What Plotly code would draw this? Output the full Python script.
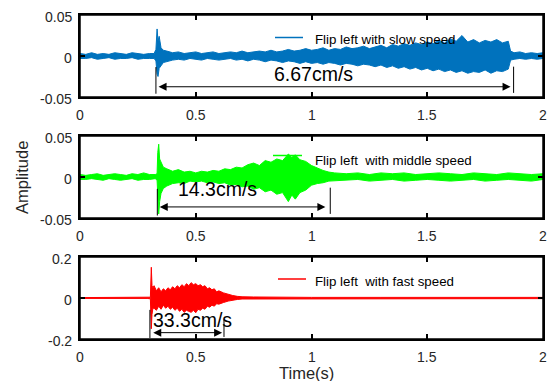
import plotly.graph_objects as go

# ---------------- data (envelopes) ----------------
t_slow = [0.00, 0.025, 0.05, 0.075, 0.10, 0.125, 0.15, 0.175, 0.20, 0.225, 0.25, 0.275, 0.30,
          0.32, 0.328, 0.333, 0.337, 0.342, 0.35, 0.36,
          0.375, 0.40, 0.425, 0.45, 0.475, 0.50, 0.525, 0.55, 0.575, 0.60, 0.625, 0.65, 0.675, 0.70,
          0.725, 0.75, 0.775, 0.80, 0.825, 0.85, 0.875, 0.90, 0.925, 0.95, 0.975, 1.00, 1.025, 1.05,
          1.075, 1.10, 1.125, 1.15, 1.175, 1.20, 1.225, 1.25, 1.275, 1.30, 1.325, 1.35, 1.375, 1.40,
          1.425, 1.45, 1.475, 1.50, 1.525, 1.55, 1.575, 1.60, 1.625, 1.65, 1.675, 1.70, 1.725, 1.75,
          1.775, 1.80, 1.825, 1.85, 1.86, 1.875, 1.90, 1.925, 1.95, 1.975, 2.00]
up_slow = [0.003, 0.002, 0.004, 0.002, 0.003, 0.002, 0.004, 0.003, 0.002, 0.004, 0.003, 0.002, 0.003,
           0.003, 0.008, 0.033, 0.018, 0.024, 0.010, 0.007,
           0.006, 0.004, 0.005, 0.003, 0.004, 0.005, 0.003, 0.004, 0.005, 0.003, 0.004, 0.005, 0.004, 0.006,
           0.004, 0.005, 0.006, 0.005, 0.007, 0.005, 0.006, 0.008, 0.006, 0.007, 0.009, 0.007, 0.008, 0.010,
           0.007, 0.009, 0.008, 0.011, 0.009, 0.010, 0.012, 0.009, 0.011, 0.013, 0.010, 0.014, 0.012, 0.015,
           0.013, 0.016, 0.014, 0.017, 0.015, 0.019, 0.016, 0.021, 0.018, 0.025, 0.017, 0.020, 0.016, 0.019,
           0.017, 0.020, 0.016, 0.018, 0.006, 0.004, 0.005, 0.003, 0.004, 0.003, 0.004]
lo_slow = [-0.003, -0.003, -0.002, -0.004, -0.003, -0.002, -0.004, -0.003, -0.003, -0.002, -0.004, -0.003, -0.003,
           -0.003, -0.006, -0.022, -0.025, -0.015, -0.012, -0.008,
           -0.007, -0.005, -0.004, -0.005, -0.003, -0.004, -0.005, -0.003, -0.004, -0.005, -0.004, -0.003, -0.005, -0.004,
           -0.006, -0.004, -0.005, -0.007, -0.005, -0.006, -0.008, -0.006, -0.007, -0.009, -0.007, -0.009, -0.008, -0.010,
           -0.008, -0.009, -0.011, -0.009, -0.010, -0.012, -0.010, -0.011, -0.013, -0.011, -0.014, -0.012, -0.015, -0.013,
           -0.016, -0.014, -0.017, -0.015, -0.018, -0.016, -0.019, -0.017, -0.020, -0.018, -0.021, -0.019, -0.020, -0.017,
           -0.021, -0.018, -0.019, -0.016, -0.005, -0.004, -0.003, -0.004, -0.003, -0.004, -0.003]

t_mid = [0.00, 0.025, 0.05, 0.075, 0.10, 0.125, 0.15, 0.175, 0.20, 0.225, 0.25, 0.275, 0.30, 0.325,
         0.333, 0.336, 0.340, 0.344, 0.350, 0.36, 0.375, 0.40, 0.425, 0.45, 0.475, 0.50, 0.525, 0.55,
         0.575, 0.60, 0.625, 0.65, 0.675, 0.70, 0.725, 0.75, 0.775, 0.80, 0.825, 0.85, 0.875, 0.90,
         0.915, 0.93, 0.95, 0.975, 1.00, 1.025, 1.05, 1.075, 1.10, 1.15, 1.20, 1.25, 1.30, 1.35, 1.40,
         1.45, 1.50, 1.55, 1.60, 1.65, 1.70, 1.75, 1.80, 1.85, 1.90, 1.95, 2.00]
up_mid = [0.003, 0.002, 0.003, 0.004, 0.002, 0.003, 0.004, 0.003, 0.002, 0.004, 0.003, 0.005, 0.003, 0.003,
          0.004, 0.030, 0.040, 0.022, 0.018, 0.012, 0.010, 0.007, 0.009, 0.006, 0.007, 0.005, 0.007, 0.006,
          0.008, 0.007, 0.010, 0.009, 0.012, 0.011, 0.015, 0.017, 0.014, 0.020, 0.018, 0.022, 0.020, 0.028,
          0.024, 0.027, 0.021, 0.019, 0.014, 0.011, 0.008, 0.006, 0.005, 0.004, 0.005, 0.003, 0.005, 0.004,
          0.005, 0.003, 0.004, 0.005, 0.004, 0.003, 0.005, 0.004, 0.003, 0.005, 0.004, 0.003, 0.004]
lo_mid = [-0.003, -0.003, -0.002, -0.003, -0.004, -0.002, -0.003, -0.004, -0.003, -0.002, -0.004, -0.003, -0.003, -0.002,
          -0.004, -0.020, -0.045, -0.030, -0.020, -0.014, -0.011, -0.008, -0.007, -0.008, -0.005, -0.006, -0.005, -0.007,
          -0.006, -0.008, -0.007, -0.010, -0.009, -0.012, -0.011, -0.015, -0.013, -0.018, -0.016, -0.021, -0.019, -0.030,
          -0.022, -0.027, -0.019, -0.016, -0.010, -0.008, -0.007, -0.005, -0.005, -0.004, -0.003, -0.005, -0.004, -0.003,
          -0.005, -0.004, -0.003, -0.004, -0.005, -0.004, -0.003, -0.005, -0.004, -0.003, -0.004, -0.005, -0.003]

t_fast = [0.00, 0.10, 0.20, 0.29, 0.304, 0.308, 0.311, 0.315, 0.32, 0.33, 0.34, 0.35, 0.36, 0.37, 0.38,
          0.39, 0.40, 0.41, 0.42, 0.43, 0.44, 0.45, 0.46, 0.47, 0.48, 0.49, 0.50, 0.51, 0.52, 0.53, 0.54,
          0.55, 0.56, 0.57, 0.58, 0.59, 0.60, 0.62, 0.64, 0.66, 0.68, 0.70, 0.75, 0.80, 0.90, 1.00, 1.30,
          1.60, 2.00]
up_fast = [0.002, 0.002, 0.002, 0.002, 0.004, 0.150, 0.060, 0.050, 0.060, 0.035, 0.050, 0.030, 0.045, 0.035, 0.050,
           0.040, 0.055, 0.045, 0.060, 0.050, 0.065, 0.055, 0.070, 0.060, 0.075, 0.065, 0.070, 0.060, 0.065, 0.055, 0.060,
           0.045, 0.050, 0.040, 0.045, 0.030, 0.035, 0.025, 0.018, 0.012, 0.008, 0.006, 0.005, 0.004, 0.003, 0.003, 0.003,
           0.003, 0.003]
lo_fast = [-0.002, -0.002, -0.002, -0.002, -0.004, -0.150, -0.080, -0.050, -0.050, -0.060, -0.040, -0.055, -0.035, -0.050, -0.040,
           -0.055, -0.045, -0.060, -0.050, -0.065, -0.055, -0.070, -0.060, -0.065, -0.070, -0.060, -0.072, -0.055, -0.060, -0.050, -0.055,
           -0.040, -0.045, -0.035, -0.040, -0.028, -0.030, -0.022, -0.015, -0.010, -0.007, -0.005, -0.004, -0.004, -0.003, -0.003, -0.003,
           -0.003, -0.003]

legend_names = ["Flip left with slow speed", "Flip left  with middle speed", "Flip left  with fast speed"]
speed_labels = ["6.67cm/s", "14.3cm/s", "33.3cm/s"]
colors = ["#0072BD", "#00FF00", "#FF0000"]

x_ticks = [0, 0.5, 1, 1.5, 2]
x_ticktext = ["0", "0.5", "1", "1.5", "2"]
y_ticks_small = [-0.05, 0, 0.05]
y_ticktext_small = ["-0.05", "0", "0.05"]
y_ticks_big = [-0.2, 0, 0.2]
y_ticktext_big = ["-0.2", "0", "0.2"]

# ---------------- layout helpers ----------------
W, H = 554, 381
def px(x):
    return x / W
def py(y):
    return 1 - y / H

FONT = "Liberation Sans, Arial, Helvetica, sans-serif"
AX = "#262626"
LINE = "#000000"

fig = go.Figure()

XL, XR = 80, 543
X_RANGE = [0, 2]
y_doms = [(15, 97), (136, 218), (257, 339)]
y_ranges = [[-0.05, 0.05], [-0.05, 0.05], [-0.2, 0.2]]
y_tv = [y_ticks_small, y_ticks_small, y_ticks_big]
y_tt = [y_ticktext_small, y_ticktext_small, y_ticktext_big]

series = [(t_slow, up_slow, lo_slow), (t_mid, up_mid, lo_mid), (t_fast, up_fast, lo_fast)]
for i, ((t, up, lo), c) in enumerate(zip(series, colors)):
    sfx = "" if i == 0 else str(i + 1)
    fig.add_trace(go.Scatter(
        x=list(t) + list(t)[::-1], y=list(up) + list(lo)[::-1],
        fill="toself", fillcolor=c, mode="lines", line=dict(color=c, width=1),
        xaxis="x" + sfx, yaxis="y" + sfx, showlegend=False, hoverinfo="skip"))

shapes = []
annotations = []
tickfont = dict(family=FONT, size=14, color=AX)
TL = 5  # tick length, px

layout_axes = {}
for i in range(3):
    sfx = "" if i == 0 else str(i + 1)
    top, bot = y_doms[i]
    y0r, y1r = y_ranges[i]
    x0r, x1r = X_RANGE
    axstyle = dict(showline=True, mirror="allticks", linecolor=LINE, linewidth=2,
                   ticks="inside", ticklen=TL, tickcolor=LINE, tickwidth=1.5,
                   showgrid=False, zeroline=False, showticklabels=False)
    layout_axes["xaxis" + sfx] = dict(axstyle, domain=[px(XL), px(XR)], range=X_RANGE, anchor="y" + sfx,
                                      tickmode="array", tickvals=x_ticks)
    layout_axes["yaxis" + sfx] = dict(axstyle, domain=[py(bot), py(top)], range=y_ranges[i], anchor="x" + sfx,
                                      tickmode="array", tickvals=y_tv[i])

    # box as paper-referenced lines on top of everything
    for (xa, ya, xb, yb) in ((XL, top, XR, top), (XL, bot, XR, bot), (XL, top, XL, bot), (XR, top, XR, bot)):
        shapes.append(dict(type="line", xref="paper", yref="paper", x0=px(xa), y0=py(ya), x1=px(xb), y1=py(yb),
                           line=dict(color=LINE, width=1.5), layer="above"))

    for tv, tt in zip(x_ticks, x_ticktext):
        annotations.append(dict(xref="x" + sfx, yref="paper", x=tv, y=py(bot + 18), text=tt,
                                showarrow=False, xanchor="center", yanchor="middle", font=tickfont))
    for tv, tt in zip(y_tv[i], y_tt[i]):
        annotations.append(dict(xref="paper", yref="y" + sfx, x=px(XL - 6), y=tv, text=tt, yshift=-2,
                                showarrow=False, xanchor="right", yanchor="middle", font=tickfont))

fig.update_layout(**layout_axes)

# legends (line sample + text)
leg = [((275, 303, 37.5), (313, 39)), ((273, 302, 155.5), (313, 160)), ((278, 306, 279), (313, 281))]
for i, ((x0, x1, ly), (tx_, ty_)) in enumerate(leg):
    shapes.append(dict(type="line", xref="paper", yref="paper", x0=px(x0), x1=px(x1),
                       y0=py(ly), y1=py(ly), line=dict(color=colors[i], width=1.5)))
    annotations.append(dict(xref="paper", yref="paper", x=px(tx_), y=py(ty_), xanchor="left", yanchor="middle",
                            text=legend_names[i], showarrow=False,
                            font=dict(family=FONT, size=13.3, color="#000000")))

marks = [
    dict(lb=0.328, rb=1.873, lby=(-0.0135, -0.046), rby=(-0.013, -0.045), a0=0.333, a1=1.860, ay=-0.0375, tx=1.01, ty=-0.022),
    dict(lb=0.334, rb=1.081, lby=(-0.0145, -0.047), rby=(-0.013, -0.045), a0=0.338, a1=1.060, ay=-0.0365, tx=0.596, ty=-0.0145),
    dict(lb=0.302, rb=0.622, lby=(-0.058, -0.195), rby=(-0.105, -0.190), a0=0.310, a1=0.614, ay=-0.169, tx=0.487, ty=-0.106),
]
for i, m in enumerate(marks):
    sfx = "" if i == 0 else str(i + 1)
    for xb, (ya, yb) in ((m["lb"], m["lby"]), (m["rb"], m["rby"])):
        shapes.append(dict(type="line", xref="x" + sfx, yref="y" + sfx, x0=xb, x1=xb, y0=ya, y1=yb,
                           line=dict(color="#000000", width=1)))
    annotations.append(dict(xref="x" + sfx, yref="y" + sfx, axref="x" + sfx, ayref="y" + sfx,
                            x=m["a1"], y=m["ay"], ax=m["a0"], ay=m["ay"], text="",
                            showarrow=True, arrowside="end+start", arrowhead=2, arrowsize=1.6,
                            arrowwidth=1, arrowcolor="#000000", standoff=0, startstandoff=0))
    annotations.append(dict(xref="x" + sfx, yref="y" + sfx, x=m["tx"], y=m["ty"], text=speed_labels[i],
                            showarrow=False, xanchor="center", yanchor="middle",
                            font=dict(family=FONT, size=19.5, color="#000000")))

annotations.append(dict(xref="paper", yref="paper", x=px(22), y=py(178), text="Amplitude", textangle=-90,
                        showarrow=False, xanchor="center", yanchor="middle",
                        font=dict(family=FONT, size=16.5, color=AX)))
annotations.append(dict(xref="paper", yref="paper", x=px(306), y=py(373), text="Time(s)",
                        showarrow=False, xanchor="center", yanchor="middle",
                        font=dict(family=FONT, size=16.5, color=AX)))

fig.update_layout(width=W, height=H, margin=dict(l=0, r=0, t=0, b=0),
                  paper_bgcolor="white", plot_bgcolor="white",
                  shapes=shapes, annotations=annotations, showlegend=False)

fig.write_html("out.html")
